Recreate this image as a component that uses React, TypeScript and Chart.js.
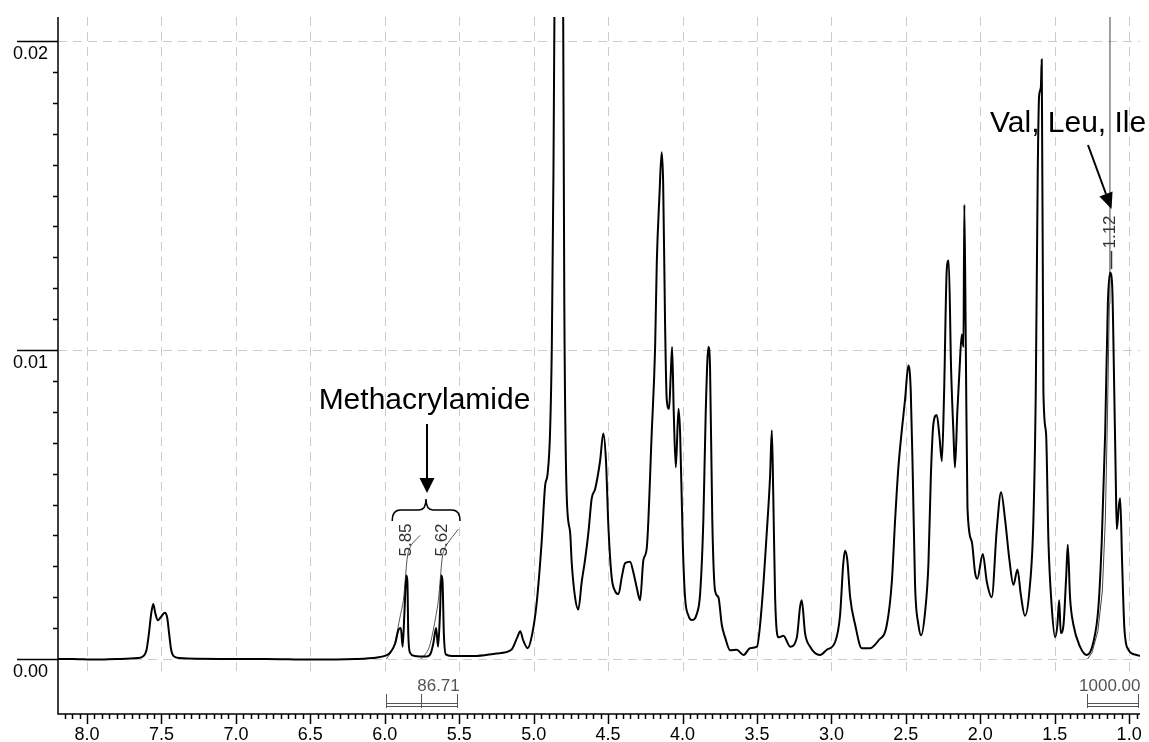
import React, { useEffect, useRef } from "react";
import { Chart, registerables } from "chart.js";

Chart.register(...registerables);

// ---- Data (ppm, intensity) ----
const spectrum: [number, number][] = [
  [8.195, 0.0], [8.1, 0.0], [7.95, -0.00002], [7.8, 0.0], [7.66, 0.00003],
  [7.62, 0.0001], [7.6, 0.0003], [7.585, 0.0008], [7.568, 0.0015], [7.555, 0.00178],
  [7.542, 0.0015], [7.525, 0.00125], [7.505, 0.00135], [7.478, 0.0015], [7.462, 0.00135],
  [7.448, 0.0008], [7.435, 0.0003], [7.42, 0.0001], [7.38, 0.00003], [7.1, 0.0],
  [6.8, 0.0], [6.5, -0.00002], [6.2, 0.0], [6.05, 0.00005], [6.0, 0.0001],
  [5.965, 0.0002], [5.93, 0.0005], [5.908, 0.00094], [5.892, 0.001], [5.88, 0.0004],
  [5.868, 0.0015], [5.855, 0.0027], [5.848, 0.0025], [5.842, 0.0008], [5.83, 0.0002],
  [5.8, 0.0001], [5.72, 0.00008], [5.69, 0.0002], [5.674, 0.0005], [5.655, 0.001],
  [5.642, 0.0004], [5.629, 0.0015], [5.62, 0.0027], [5.612, 0.0025], [5.603, 0.0008],
  [5.59, 0.00015], [5.55, 0.0001], [5.4, 0.0001], [5.25, 0.00018], [5.15, 0.0003],
  [5.11, 0.0007], [5.09, 0.0009], [5.07, 0.0006], [5.04, 0.00035], [5.01, 0.0008],
  [4.98, 0.0018], [4.946, 0.0038], [4.923, 0.0056], [4.906, 0.006], [4.89, 0.0073],
  [4.878, 0.0101], [4.867, 0.0157], [4.855, 0.025], [4.83, 0.035], [4.805, 0.025],
  [4.794, 0.0115], [4.778, 0.0053], [4.755, 0.0041], [4.744, 0.0031], [4.722, 0.002],
  [4.7, 0.0016], [4.677, 0.0025], [4.655, 0.0032], [4.632, 0.0041], [4.61, 0.0052],
  [4.587, 0.0055], [4.554, 0.0064], [4.532, 0.0073], [4.514, 0.0064], [4.498, 0.0043],
  [4.476, 0.00265], [4.453, 0.0022], [4.43, 0.0021], [4.408, 0.00265], [4.386, 0.0031],
  [4.352, 0.00315], [4.33, 0.0028], [4.307, 0.0023], [4.285, 0.0019], [4.263, 0.0032],
  [4.24, 0.0036], [4.207, 0.0073], [4.184, 0.0101], [4.173, 0.0128], [4.155, 0.015],
  [4.14, 0.0164], [4.13, 0.0154], [4.117, 0.0108], [4.106, 0.0084], [4.09, 0.0081],
  [4.08, 0.0091], [4.07, 0.0101], [4.059, 0.008], [4.045, 0.0062], [4.027, 0.0081],
  [4.016, 0.0073], [3.998, 0.0037], [3.983, 0.002], [3.96, 0.0014], [3.938, 0.00126],
  [3.904, 0.00146], [3.882, 0.0021], [3.86, 0.0045], [3.844, 0.008], [3.826, 0.0101],
  [3.815, 0.0094], [3.8, 0.0045], [3.781, 0.0022], [3.759, 0.002], [3.736, 0.0011],
  [3.714, 0.0007], [3.68, 0.00028], [3.636, 0.0003], [3.59, 0.00013], [3.546, 0.00035],
  [3.5, 0.0004], [3.468, 0.0017], [3.434, 0.0041], [3.412, 0.0059], [3.4, 0.0074],
  [3.39, 0.0052], [3.378, 0.002], [3.356, 0.0007], [3.322, 0.00075], [3.277, 0.0004],
  [3.232, 0.0007], [3.21, 0.0017], [3.199, 0.0019], [3.177, 0.00084], [3.143, 0.0004],
  [3.076, 0.00013], [3.031, 0.0003], [2.975, 0.00055], [2.942, 0.0014], [2.92, 0.0031],
  [2.908, 0.0035], [2.893, 0.0032], [2.874, 0.002], [2.84, 0.0011], [2.796, 0.00035],
  [2.74, 0.00035], [2.684, 0.0006], [2.628, 0.0011], [2.594, 0.0025], [2.572, 0.0045],
  [2.55, 0.0062], [2.527, 0.0074], [2.505, 0.0084], [2.483, 0.0095], [2.467, 0.0087],
  [2.453, 0.0059], [2.438, 0.0024], [2.415, 0.0011], [2.397, 0.00077], [2.37, 0.00155],
  [2.348, 0.0031], [2.332, 0.0059], [2.315, 0.0076], [2.292, 0.0079], [2.274, 0.0072],
  [2.258, 0.0064], [2.243, 0.0086], [2.225, 0.0126], [2.212, 0.0129], [2.196, 0.0094],
  [2.18, 0.0073], [2.17, 0.0062], [2.154, 0.008], [2.14, 0.0093], [2.124, 0.0105],
  [2.113, 0.0101], [2.107, 0.0147], [2.097, 0.0101], [2.086, 0.0049], [2.057, 0.0038],
  [2.035, 0.0028], [2.02, 0.0026], [1.983, 0.0034], [1.956, 0.0025], [1.923, 0.002],
  [1.889, 0.0042], [1.86, 0.0054], [1.833, 0.0045], [1.804, 0.0032], [1.777, 0.0024],
  [1.75, 0.0029], [1.728, 0.0021], [1.7, 0.0014], [1.67, 0.0022], [1.643, 0.0045],
  [1.627, 0.0087], [1.614, 0.0157], [1.605, 0.0182], [1.593, 0.0185], [1.587, 0.0194],
  [1.576, 0.0087], [1.558, 0.0073], [1.542, 0.0038], [1.52, 0.0017], [1.497, 0.0007],
  [1.482, 0.0011], [1.47, 0.0019], [1.459, 0.00084], [1.441, 0.0011], [1.423, 0.00265],
  [1.412, 0.0037], [1.397, 0.002], [1.374, 0.0011], [1.33, 0.0004], [1.284, 0.00013],
  [1.24, 0.00055], [1.206, 0.0017], [1.184, 0.0038], [1.161, 0.0073], [1.143, 0.0115],
  [1.128, 0.0125], [1.114, 0.0121], [1.1, 0.0087], [1.09, 0.0059], [1.083, 0.0042],
  [1.068, 0.005], [1.06, 0.0052], [1.047, 0.0031], [1.032, 0.001], [1.005, 0.0003],
  [0.95, 0.00013], [0.927, 0.0001],
];

const integral585: [number, number][] = [
  [5.99, 0.0], [5.96, 0.0002], [5.94, 0.0004], [5.92, 0.0008], [5.9, 0.0013],
  [5.875, 0.0019], [5.862, 0.0026], [5.845, 0.0034], [5.82, 0.0037], [5.763, 0.0040],
];
const integral562: [number, number][] = [
  [5.758, 0.0], [5.72, 0.0002], [5.7, 0.0004], [5.68, 0.0008], [5.66, 0.0013],
  [5.64, 0.0019], [5.627, 0.0026], [5.61, 0.0034], [5.584, 0.0037], [5.506, 0.0042],
];
const integral112: [number, number][] = [
  [1.28, 0.0], [1.25, 0.0002], [1.21, 0.0009], [1.18, 0.0022], [1.16, 0.0045],
  [1.145, 0.008], [1.133, 0.0115], [1.129, 0.014], [1.128, 0.03], [1.1, 0.042],
  [1.05, 0.045], [0.94, 0.046],
];

const xMajorTicks = [8.0, 7.5, 7.0, 6.5, 6.0, 5.5, 5.0, 4.5, 4.0, 3.5, 3.0, 2.5, 2.0, 1.5, 1.0];
const xTickLabels = ["8.0", "7.5", "7.0", "6.5", "6.0", "5.5", "5.0", "4.5", "4.0", "3.5", "3.0", "2.5", "2.0", "1.5", "1.0"];
const yMajorTicks = [0, 0.01, 0.02];
const yTickLabels = ["0.00", "0.01", "0.02"];

const integralRanges: [number, number, number | null][] = [
  [5.99, 5.515, 5.758],
  [1.28, 0.94, null],
];
const integralLabels = ["86.71", "1000.00"];
const peakLabels = ["5.85", "5.62", "1.12"];
const annotationTexts = ["Methacrylamide", "Val, Leu, Ile"];

const FONT = '"Liberation Sans", Arial, Helvetica, sans-serif';

const toXY = (arr: [number, number][]) => arr.map(([x, y]) => ({ x, y }));

function arrow(ctx: CanvasRenderingContext2D, x1: number, y1: number, x2: number, y2: number, len: number, half: number) {
  const a = Math.atan2(y2 - y1, x2 - x1);
  const bx = x2 - len * Math.cos(a);
  const by = y2 - len * Math.sin(a);
  ctx.beginPath();
  ctx.moveTo(x1, y1);
  ctx.lineTo(bx, by);
  ctx.stroke();
  ctx.beginPath();
  ctx.moveTo(x2, y2);
  ctx.lineTo(bx + half * Math.sin(a), by - half * Math.cos(a));
  ctx.lineTo(bx - half * Math.sin(a), by + half * Math.cos(a));
  ctx.closePath();
  ctx.fill();
}

const nmrPlugin = {
  id: "nmrDecor",
  beforeDatasetsDraw(chart: any) {
    const { ctx, chartArea, scales } = chart;
    const x = scales.x, y = scales.y;
    ctx.save();
    ctx.strokeStyle = "#cccccc";
    ctx.lineWidth = 1;
    ctx.setLineDash([9, 6]);
    const gridBottom = y.getPixelForValue(-0.00045);
    xMajorTicks.forEach((v) => {
      const px = Math.round(x.getPixelForValue(v)) + 0.5;
      ctx.beginPath();
      ctx.moveTo(px, chartArea.top);
      ctx.lineTo(px, gridBottom);
      ctx.stroke();
    });
    yMajorTicks.forEach((v) => {
      const py = Math.round(y.getPixelForValue(v)) + 0.5;
      ctx.beginPath();
      ctx.moveTo(chartArea.left, py);
      ctx.lineTo(chartArea.right, py);
      ctx.stroke();
    });
    ctx.restore();
  },
  afterDraw(chart: any) {
    const { ctx, chartArea, scales } = chart;
    const x = scales.x, y = scales.y;
    const L = chartArea.left, R = chartArea.right, T = chartArea.top, B = chartArea.bottom;
    ctx.save();
    ctx.strokeStyle = "#000";
    ctx.fillStyle = "#000";
    ctx.lineWidth = 1.5;
    // axes
    ctx.beginPath();
    ctx.moveTo(L, T);
    ctx.lineTo(L, B);
    ctx.lineTo(R, B);
    ctx.stroke();
    // y ticks
    for (let i = 0; i <= 20; i++) {
      const v = i * 0.001;
      const py = Math.round(y.getPixelForValue(v)) + 0.5;
      const major = i % 10 === 0;
      ctx.beginPath();
      ctx.moveTo(major ? 17 : L - 5, py);
      ctx.lineTo(L, py);
      ctx.stroke();
    }
    ctx.font = `18px ${FONT}`;
    ctx.textAlign = "left";
    ctx.textBaseline = "middle";
    yMajorTicks.forEach((v, i) => {
      const py = y.getPixelForValue(v);
      ctx.fillText(yTickLabels[i], 13, py + 13);
    });
    // x ticks
    for (let i = 19; i <= 163; i++) {
      const v = i * 0.05;
      const px = Math.round(x.getPixelForValue(v)) + 0.5;
      if (px < L || px > R) continue;
      const major = i % 10 === 0;
      ctx.beginPath();
      ctx.moveTo(px, B);
      ctx.lineTo(px, B + (major ? 10 : 5));
      ctx.stroke();
    }
    ctx.textAlign = "center";
    xMajorTicks.forEach((v, i) => {
      ctx.fillText(xTickLabels[i], x.getPixelForValue(v), 735);
    });

    // integral brackets
    ctx.strokeStyle = "#555";
    ctx.fillStyle = "#555";
    ctx.lineWidth = 1;
    integralRanges.forEach(([a, b, m], i) => {
      const xa = Math.round(x.getPixelForValue(a)) + 0.5;
      const xb = Math.round(x.getPixelForValue(b)) + 0.5;
      ctx.beginPath();
      ctx.moveTo(xa, 703.5); ctx.lineTo(xb, 703.5);
      ctx.moveTo(xa, 706.5); ctx.lineTo(xb, 706.5);
      ctx.moveTo(xa, 694); ctx.lineTo(xa, 708);
      ctx.moveTo(xb, 694); ctx.lineTo(xb, 708);
      if (m !== null) {
        const xm = Math.round(x.getPixelForValue(m)) + 0.5;
        ctx.moveTo(xm, 694); ctx.lineTo(xm, 708);
      }
      ctx.stroke();
      ctx.font = `17px ${FONT}`;
      ctx.textBaseline = "alphabetic";
      ctx.textAlign = i === 0 ? "center" : "right";
      ctx.fillText(integralLabels[i], i === 0 ? 438.5 : xb + 2, 691);
    });

    // peak labels
    ctx.fillStyle = "#333";
    ctx.strokeStyle = "#333";
    ctx.font = `17px ${FONT}`;
    ctx.textAlign = "center";
    ctx.textBaseline = "middle";
    const peakPos: [number, number][] = [[5.853, 540], [5.615, 540], [1.125, 232]];
    peakPos.forEach(([p, cy], i) => {
      const cx = x.getPixelForValue(p);
      ctx.save();
      ctx.translate(cx, cy);
      ctx.rotate(-Math.PI / 2);
      ctx.fillText(peakLabels[i], 0, 0);
      ctx.restore();
    });
    const x112 = Math.round(x.getPixelForValue(1.125)) + 0.5;
    ctx.lineWidth = 1.5;
    ctx.beginPath();
    ctx.moveTo(x112, 251);
    ctx.lineTo(x112, 269);
    ctx.stroke();

    // Methacrylamide annotation
    ctx.fillStyle = "#000";
    ctx.strokeStyle = "#000";
    ctx.font = `30px ${FONT}`;
    ctx.textAlign = "center";
    ctx.textBaseline = "alphabetic";
    ctx.fillText(annotationTexts[0], 424.5, 409);
    ctx.lineWidth = 2;
    arrow(ctx, 427, 424, 427, 493, 15, 7.5);
    // curly brace
    const bl = x.getPixelForValue(5.99) + 6;
    const br = x.getPixelForValue(5.515) + 3;
    const bm = 426;
    ctx.lineWidth = 1.5;
    ctx.beginPath();
    ctx.moveTo(bl, 521);
    ctx.quadraticCurveTo(bl, 510, bl + 8, 510);
    ctx.lineTo(bm - 7, 510);
    ctx.quadraticCurveTo(bm, 510, bm, 499);
    ctx.quadraticCurveTo(bm, 510, bm + 7, 510);
    ctx.lineTo(br - 8, 510);
    ctx.quadraticCurveTo(br, 510, br, 521);
    ctx.stroke();

    // Val, Leu, Ile annotation
    ctx.font = `30px ${FONT}`;
    ctx.textAlign = "left";
    ctx.fillText(annotationTexts[1], 990, 132);
    ctx.lineWidth = 2;
    arrow(ctx, 1088, 145, 1111.5, 209, 16, 7);
    ctx.restore();
  },
};

export default function App() {
  const ref = useRef<HTMLCanvasElement | null>(null);
  useEffect(() => {
    if (!ref.current) return;
    const chart = new Chart(ref.current, {
      type: "line",
      data: {
        datasets: [
          {
            data: toXY(spectrum),
            borderColor: "#000",
            borderWidth: 2,
            pointRadius: 0,
            cubicInterpolationMode: "monotone",
            clip: 0,
          } as any,
          {
            data: toXY(integral585),
            borderColor: "#555",
            borderWidth: 1,
            pointRadius: 0,
            tension: 0.3,
            clip: 0,
          } as any,
          {
            data: toXY(integral562),
            borderColor: "#555",
            borderWidth: 1,
            pointRadius: 0,
            tension: 0.3,
            clip: 0,
          } as any,
          {
            data: toXY(integral112),
            borderColor: "#444",
            borderWidth: 1,
            pointRadius: 0,
            tension: 0,
            clip: 0,
          } as any,
        ],
      },
      options: {
        responsive: false,
        animation: false,
        devicePixelRatio: 1,
        layout: { padding: { left: 58, right: 9, top: 17, bottom: 28 } },
        plugins: { legend: { display: false }, tooltip: { enabled: false } },
        events: [],
        scales: {
          x: { type: "linear", reverse: true, min: 0.927, max: 8.195, display: false },
          y: { type: "linear", min: -0.00178, max: 0.020777, display: false },
        },
      },
      plugins: [nmrPlugin],
    });
    return () => chart.destroy();
  }, []);
  return (
    <div style={{ position: "absolute", left: 0, top: 0, width: 1149, height: 742, background: "#fff" }}>
      <canvas ref={ref} width={1149} height={742} />
    </div>
  );
}
